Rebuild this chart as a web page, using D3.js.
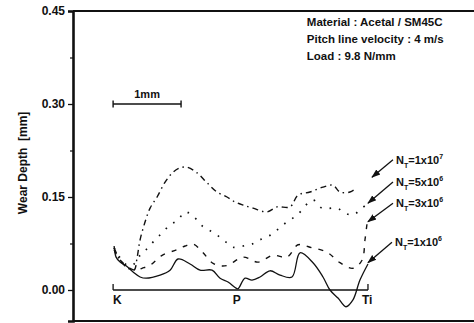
<!DOCTYPE html>
<html><head><meta charset="utf-8">
<script src="https://cdn.jsdelivr.net/npm/d3@7/dist/d3.min.js"></script>
<style>body{margin:0;background:#fff}svg{display:block}text{font-family:"Liberation Sans",Arial,sans-serif;font-weight:bold;fill:#111}</style>
</head><body><svg id="c" width="474" height="323"></svg>
<script>
// x: position along tooth profile [mm], from K ; y: wear depth [mm]
const yTicks = [0.00, 0.15, 0.30, 0.45];
const yMinorTicks = [0.075, 0.225, 0.375];
const yTickLabels = ["0.00", "0.15", "0.30", "0.45"];
const points = [{name:"K", x:0}, {name:"P", x:1.82}, {name:"Ti", x:3.75}];
const seriesNames = ["N_T=1x10^7", "N_T=5x10^6", "N_T=3x10^6", "N_T=1x10^6"];
const infoLines = ["Material : Acetal / SM45C", "Pitch line velocity : 4 m/s", "Load : 9.8 N/mm"];

const s1e7 = [[0.015,0.068],[0.103,0.048],[0.221,0.035],[0.309,0.032],[0.353,0.052],[0.397,0.081],[0.471,0.110],[0.544,0.132],[0.647,0.150],[0.765,0.174],[0.882,0.190],[0.985,0.197],[1.088,0.198],[1.235,0.189],[1.382,0.173],[1.529,0.158],[1.676,0.150],[1.794,0.142],[1.912,0.137],[2.059,0.132],[2.265,0.126],[2.412,0.134],[2.603,0.134],[2.721,0.153],[2.897,0.158],[3.088,0.166],[3.235,0.169],[3.338,0.158],[3.485,0.158],[3.588,0.165]];
const s5e6 = [[0.015,0.068],[0.103,0.052],[0.221,0.039],[0.309,0.042],[0.368,0.052],[0.441,0.061],[0.515,0.068],[0.618,0.081],[0.721,0.092],[0.838,0.105],[0.956,0.113],[1.059,0.126],[1.206,0.116],[1.324,0.102],[1.456,0.094],[1.574,0.085],[1.676,0.076],[1.765,0.069],[1.912,0.071],[2.044,0.074],[2.162,0.081],[2.338,0.090],[2.500,0.105],[2.706,0.121],[2.941,0.145],[3.074,0.132],[3.294,0.132],[3.412,0.124],[3.529,0.121],[3.632,0.129],[3.735,0.139]];
const s3e6 = [[0.015,0.065],[0.074,0.052],[0.162,0.042],[0.250,0.035],[0.338,0.032],[0.426,0.035],[0.544,0.040],[0.721,0.056],[0.941,0.065],[1.059,0.071],[1.176,0.074],[1.324,0.060],[1.456,0.044],[1.574,0.039],[1.691,0.040],[1.912,0.053],[2.132,0.045],[2.353,0.056],[2.559,0.053],[2.721,0.073],[2.897,0.069],[3.147,0.061],[3.338,0.044],[3.529,0.035],[3.662,0.048],[3.706,0.081],[3.735,0.106]];
const s1e6 = [[0.015,0.071],[0.044,0.053],[0.103,0.045],[0.191,0.039],[0.294,0.029],[0.397,0.021],[0.485,0.019],[0.691,0.024],[0.838,0.032],[0.956,0.050],[1.132,0.042],[1.279,0.032],[1.456,0.032],[1.574,0.019],[1.691,0.013],[1.809,0.003],[1.838,0.002],[1.941,0.019],[2.044,0.016],[2.162,0.021],[2.309,0.031],[2.456,0.024],[2.632,0.021],[2.750,0.060],[2.941,0.044],[3.088,0.021],[3.191,0.000],[3.309,-0.013],[3.426,-0.027],[3.529,-0.016],[3.632,0.016],[3.750,0.042]];
// annotation arrows [x0,y0,x1,y1] in data units (label at start)
const arrows = [[4.118,0.210,3.809,0.182],[4.118,0.174,3.75,0.140],[4.118,0.140,3.75,0.110],[4.103,0.077,3.75,0.044]];
const scaleBar = [0, 1]; // 1 mm
const scaleBarY = 0.30;

const svg = d3.select("#c");
const x = d3.scaleLinear().domain([-0.59, 5.31]).range([73, 474]);
const y = d3.scaleLinear().domain([-0.05, 0.45]).range([321, 11]);

// frame
svg.append("line").attr("x1",x(-0.59)).attr("x2",x(5.31)).attr("y1",y(0.45)).attr("y2",y(0.45)).attr("stroke","#111").attr("stroke-width",2.2);
svg.append("line").attr("x1",x(-0.59)).attr("x2",x(5.31)).attr("y1",y(-0.05)).attr("y2",y(-0.05)).attr("stroke","#111").attr("stroke-width",2.2);

const ax = svg.append("g").attr("transform",`translate(${x(-0.59)},0)`)
  .call(d3.axisLeft(y).tickValues(yTicks).tickFormat((d,i)=>yTickLabels[i]).tickSize(5).tickPadding(3));
ax.select(".domain").attr("stroke-width",2.6).attr("stroke","#111");
ax.selectAll(".tick line").attr("stroke-width",1.3).attr("stroke","#111");
ax.selectAll(".tick text").attr("font-size",12).attr("font-family","Liberation Sans, Arial, sans-serif").attr("font-weight","bold").attr("fill","#111");
svg.append("g").attr("transform",`translate(${x(-0.59)},0)`)
  .call(d3.axisLeft(y).tickValues(yMinorTicks).tickFormat("").tickSize(3))
  .call(g=>{g.select(".domain").remove(); g.selectAll(".tick line").attr("stroke","#111").attr("stroke-width",1.2);});

svg.append("text").attr("transform",`translate(27,${y(0.205)}) rotate(-90)`).attr("text-anchor","middle")
  .attr("font-size",12).style("white-space","pre").text("Wear Depth  [mm]");

// info text
infoLines.forEach((t,i)=>svg.append("text").attr("x",x(2.85)).attr("y",y(0.45)+15+i*17).attr("font-size",11.5).text(t));

// scale bar
const sb = svg.append("g").attr("stroke","#111").attr("stroke-width",1.4);
sb.append("line").attr("x1",x(scaleBar[0])).attr("x2",x(scaleBar[1])).attr("y1",y(scaleBarY)).attr("y2",y(scaleBarY));
scaleBar.forEach(v=>sb.append("line").attr("x1",x(v)).attr("x2",x(v)).attr("y1",y(scaleBarY)-3.5).attr("y2",y(scaleBarY)+3.5));
svg.append("text").attr("x",x((scaleBar[0]+scaleBar[1])/2)).attr("y",y(scaleBarY)-6).attr("text-anchor","middle").attr("font-size",11).text("1mm");

// baseline K-P-Ti
const bl = svg.append("g").attr("stroke","#111").attr("stroke-width",1.3);
bl.append("line").attr("x1",x(points[0].x)).attr("x2",x(points[2].x)).attr("y1",y(0)).attr("y2",y(0));
[points[0].x, points[2].x].forEach(v=>bl.append("line").attr("x1",x(v)).attr("x2",x(v)).attr("y1",y(0)-6).attr("y2",y(0)));
svg.append("text").attr("x",x(points[0].x)).attr("y",y(0)+14).attr("font-size",12).text(points[0].name);
svg.append("text").attr("x",x(points[1].x)).attr("y",y(0)+14).attr("text-anchor","middle").attr("font-size",12).text(points[1].name);
svg.append("text").attr("x",x(points[2].x)-6).attr("y",y(0)+14).attr("font-size",12).attr("font-weight","normal").text(points[2].name);

// curves
const line = d3.line().x(d=>x(d[0])).y(d=>y(d[1])).curve(d3.curveCatmullRom.alpha(0.5));
const series = [
  {d:s1e7, dash:"6,4,1.5,4", w:1.4},
  {d:s5e6, dash:"1.6,8", w:1.7},
  {d:s3e6, dash:"5,7", w:1.4},
  {d:s1e6, dash:null, w:1.3}
];
series.forEach(s=>svg.append("path").attr("d",line(s.d)).attr("fill","none").attr("stroke","#111")
  .attr("stroke-width",s.w).attr("stroke-dasharray",s.dash));

// arrows + labels
svg.append("defs").append("marker").attr("id","ah").attr("viewBox","0 0 10 10").attr("refX",9).attr("refY",5)
  .attr("markerWidth",7).attr("markerHeight",7).attr("orient","auto")
  .append("path").attr("d","M0,1.5 L10,5 L0,8.5 Z").attr("fill","#111");
arrows.forEach((a,i)=>{
  svg.append("line").attr("x1",x(a[0])).attr("y1",y(a[1])).attr("x2",x(a[2])).attr("y2",y(a[3]))
    .attr("stroke","#111").attr("stroke-width",1.3).attr("marker-end","url(#ah)");
  const m = seriesNames[i].match(/N_(\w)=(\w+)\^(\d+)/);
  const t = svg.append("text").attr("x",x(a[0])+3).attr("y",y(a[1])+4).attr("font-size",11);
  t.append("tspan").text("N");
  t.append("tspan").attr("dy",4).attr("font-size",7).text(m[1]);
  t.append("tspan").attr("dy",-4).text("="+m[2]);
  t.append("tspan").attr("dy",-5).attr("font-size",7).text(m[3]);
});
</script></body></html>
